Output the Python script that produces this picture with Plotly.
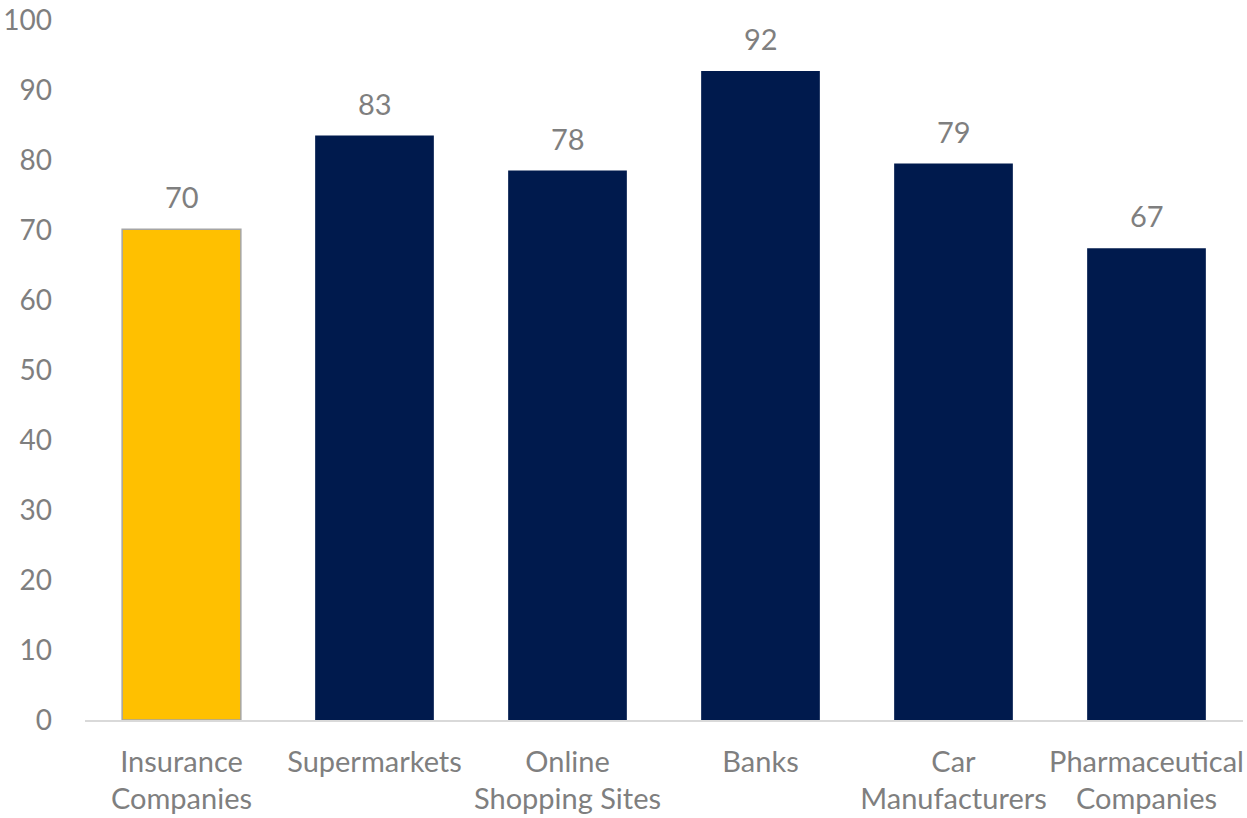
import plotly.graph_objects as go

categories = ["Insurance<br>Companies", "Supermarkets", "Online<br>Shopping Sites", "Banks",
              "Car<br>Manufacturers", "Pharmaceutical<br>Companies"]
values = [70.1, 83.5, 78.5, 92.7, 79.5, 67.4]
labels = ["70", "83", "78", "92", "79", "67"]
colors = ["#FFC000", "#001A4D", "#001A4D", "#001A4D", "#001A4D", "#001A4D"]
outline = ["#A5A5A5", "#001A4D", "#001A4D", "#001A4D", "#001A4D", "#001A4D"]
y_ticks = [0, 10, 20, 30, 40, 50, 60, 70, 80, 90, 100]

FONT = "Lato"
GRAY = "#7F7F7F"
SIZE = 29

fig = go.Figure()
fig.add_trace(go.Bar(
    x=categories, y=values,
    marker=dict(color=colors, line=dict(color=outline, width=[1.5, 0, 0, 0, 0, 0])),
    hoverinfo="skip",
))
for c, v, t in zip(categories, values, labels):
    fig.add_annotation(x=c, y=v, text=t, showarrow=False, yanchor="bottom", yshift=13,
                       font=dict(family=FONT, size=SIZE, color=GRAY))

fig.update_layout(
    width=1247, height=818,
    margin=dict(l=85, r=4, t=20, b=98, autoexpand=False),
    paper_bgcolor="white", plot_bgcolor="white",
    bargap=0.385,
    showlegend=False,
    font=dict(family=FONT, size=SIZE, color=GRAY),
)
fig.update_xaxes(showline=True, linecolor="#D9D9D9", linewidth=1.5, showgrid=False,
                 ticks="", tickangle=0, automargin=False,
                 tickfont=dict(family=FONT, size=SIZE, color=GRAY), ticklabelstandoff=15)
fig.update_yaxes(range=[0, 100.001], tickvals=y_ticks, showgrid=False, zeroline=False,
                 showline=False, ticks="", ticklabelstandoff=32, ticklabeloverflow="allow",
                 automargin=False,
                 tickfont=dict(family=FONT, size=28, color=GRAY))

fig.write_html("out.html")
